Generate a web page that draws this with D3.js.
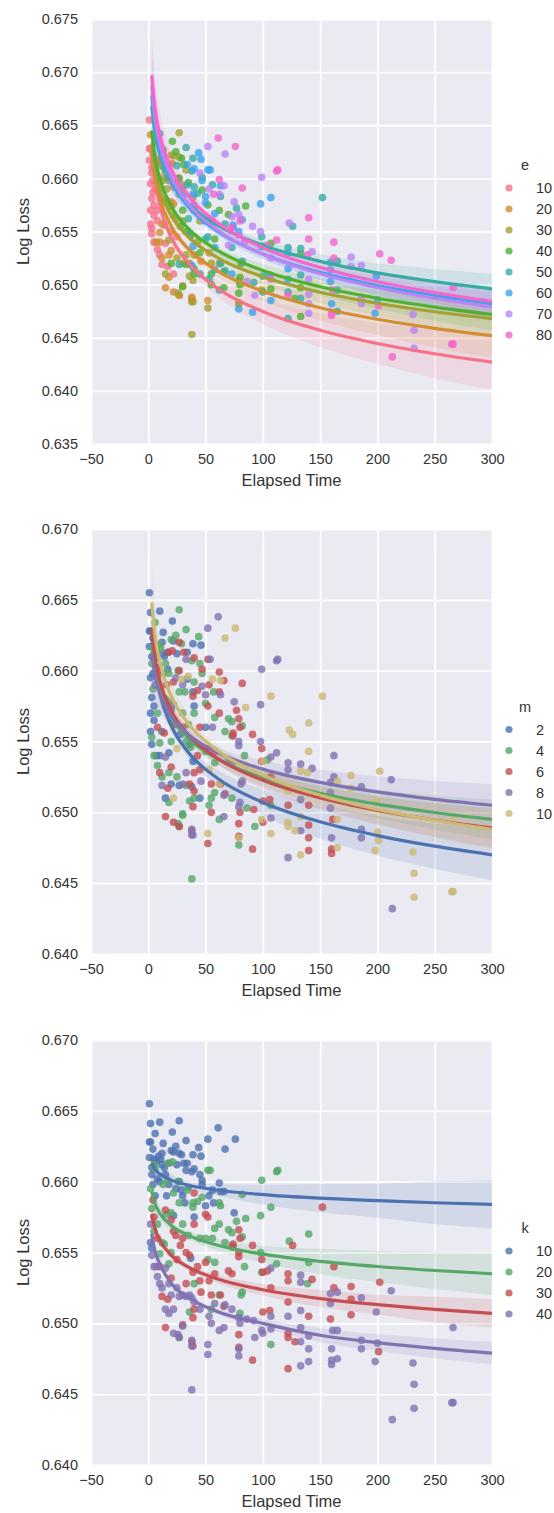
<!DOCTYPE html>
<html lang="en">
<head>
  <meta charset="utf-8">
  <title>Log Loss vs Elapsed Time</title>
  <script src="https://d3js.org/d3.v7.min.js"></script>
  <style>
    body { margin: 0; background: #fff; }
    text { font-family: "Liberation Sans", Arial, sans-serif; fill: #333; }
  </style>
</head>
<body>
<script>
// runs: [elapsed time, log loss, e, m], grouped by k
var k10Runs = [
  [1, .6655, 10, 2], [2, .6641, 20, 2], [10, .6642, 50, 2], [27, .6643, 30, 4], [21, .6635, 40, 2],
  [6, .6634, 10, 4], [1, .6628, 10, 2], [2, .6628, 10, 2], [13, .6627, 40, 2], [4, .6623, 10, 2],
  [24, .6625, 40, 4], [22, .6621, 30, 2], [33, .6629, 50, 4], [44, .6624, 60, 4], [46, .6618, 60, 2],
  [52, .6630, 70, 8], [61, .6638, 80, 8], [67, .6623, 70, 10], [76, .6630, 80, 10], [39, .6619, 50, 2],
  [27, .6620, 30, 6], [29, .6619, 40, 4], [12, .6620, 20, 2], [9, .6618, 10, 4], [1, .6617, 10, 2],
  [5, .6616, 10, 4], [7, .6614, 20, 2], [11, .6616, 20, 4], [12, .6612, 30, 2], [14, .6610, 40, 2],
  [20, .6622, 30, 4], [18, .6613, 20, 6], [25, .6612, 50, 2], [31, .6613, 40, 6], [34, .6613, 60, 2],
  [38, .6607, 50, 4], [33, .6608, 30, 8], [40, .6609, 60, 6], [45, .6605, 70, 4], [47, .6601, 50, 6],
  [47, .6598, 60, 4], [56, .6594, 50, 10], [63, .6593, 60, 10], [66, .6593, 70, 6], [27, .6600, 40, 6],
  [29, .6594, 30, 10], [30, .6590, 40, 8], [32, .6585, 50, 4], [22, .6576, 20, 8], [3, .6610, 10, 2],
  [3, .6605, 10, 4], [4, .6598, 10, 2], [8, .6602, 20, 2], [10, .6600, 10, 6], [15, .6605, 30, 4],
  [18, .6598, 20, 4], [35, .6596, 40, 10], [40, .6575, 60, 2], [53, .6590, 70, 6], [57, .6585, 80, 4],
  [2, .6557, 10, 2], [3, .6553, 10, 4], [37, .6546, 40, 4], [6, .6590, 10, 8], [16, .6590, 30, 6],
  [24, .6595, 20, 8], [50, .6583, 60, 8], [62, .6599, 80, 6], [75, .6578, 70, 8]
];
var k20Runs = [
  [5, .6612, 10, 4], [6, .6609, 20, 2], [17, .6613, 30, 2], [21, .6614, 20, 6], [52, .6608, 60, 6],
  [54, .6608, 60, 8], [13, .6598, 30, 4], [17, .6601, 40, 2], [26, .6600, 40, 4], [22, .6592, 20, 6],
  [34, .6594, 50, 2], [47, .6589, 40, 8], [43, .6586, 50, 6], [39, .6585, 60, 2], [39, .6582, 30, 6],
  [62, .6585, 70, 6], [63, .6583, 50, 8], [82, .6591, 80, 6], [85, .6574, 40, 10], [99, .6601, 70, 8],
  [98, .6576, 60, 8], [107, .6582, 60, 10], [112, .6607, 80, 8], [113, .6608, 80, 8], [98, .6550, 70, 8],
  [112, .6542, 80, 8], [123, .6558, 70, 10], [140, .6563, 80, 10], [140, .6543, 80, 10], [139, .6528, 80, 10],
  [107, .6485, 60, 10], [82, .6522, 50, 8], [81, .6520, 40, 8], [80, .6507, 40, 8], [82, .6561, 60, 4],
  [77, .6572, 50, 6], [70, .6566, 40, 4], [73, .6564, 70, 4], [74, .6554, 60, 6], [67, .6557, 50, 4],
  [62, .6570, 40, 6], [58, .6567, 60, 4], [56, .6560, 30, 8], [58, .6543, 40, 6], [52, .6545, 50, 6],
  [45, .6560, 30, 6], [50, .6560, 60, 2], [30, .6570, 40, 4], [27, .6585, 30, 4], [20, .6578, 20, 4],
  [16, .6577, 30, 2], [8, .6570, 10, 4], [5, .6565, 10, 2], [3, .6581, 10, 2], [2, .6595, 10, 2],
  [27, .6490, 20, 4], [36, .6508, 30, 4], [40, .6528, 30, 6], [55, .6510, 40, 4], [62, .6520, 20, 10],
  [18, .6542, 30, 2], [20, .6550, 20, 4], [12, .6557, 20, 2], [10, .6549, 20, 4], [14, .6556, 10, 6],
  [35, .6562, 50, 4], [99, .6536, 60, 6], [84, .6540, 70, 4]
];
var k30Runs = [
  [4, .6587, 10, 4], [5, .6575, 10, 2], [40, .6592, 50, 4], [50, .6577, 60, 4], [52, .6575, 40, 6],
  [40, .6570, 40, 4], [15, .6580, 20, 4], [22, .6565, 30, 4], [24, .6562, 20, 6], [28, .6555, 40, 2],
  [20, .6573, 30, 2], [30, .6560, 30, 6], [33, .6550, 40, 4], [36, .6548, 50, 2], [39, .6536, 60, 2],
  [43, .6540, 30, 6], [45, .6530, 40, 6], [50, .6543, 50, 4], [53, .6530, 20, 10], [58, .6535, 60, 4],
  [63, .6520, 50, 6], [66, .6512, 40, 8], [70, .6537, 70, 4], [73, .6535, 50, 8], [73, .6554, 80, 4],
  [74, .6556, 60, 6], [79, .6566, 70, 6], [80, .6560, 80, 6], [79, .6550, 60, 8], [79, .6547, 70, 8],
  [91, .6555, 70, 6], [99, .6545, 50, 6], [100, .6536, 40, 10], [104, .6537, 80, 4], [107, .6525, 70, 6],
  [106, .6509, 60, 6], [79, .6492, 40, 6], [79, .6483, 30, 6], [91, .6474, 60, 6], [100, .6508, 50, 6],
  [122, .6535, 50, 8], [122, .6530, 60, 8], [122, .6515, 60, 10], [122, .6493, 50, 10], [122, .6490, 80, 10],
  [122, .6468, 50, 8], [126, .6555, 50, 10], [128, .6487, 40, 10], [143, .6531, 70, 8], [140, .6505, 70, 6],
  [152, .6582, 50, 10], [162, .6540, 80, 8], [162, .6525, 80, 8], [159, .6503, 60, 8], [177, .6526, 70, 10],
  [177, .6517, 70, 10], [177, .6506, 70, 10], [202, .6529, 80, 10], [201, .6480, 80, 10], [15, .6497, 20, 6],
  [30, .6499, 20, 4], [39, .6504, 30, 6], [38, .6487, 20, 6], [39, .6484, 20, 8], [40, .6510, 40, 4],
  [55, .6520, 30, 6], [20, .6532, 20, 6], [17, .6517, 10, 6], [12, .6519, 10, 8], [8, .6560, 10, 6],
  [10, .6540, 20, 2], [25, .6545, 10, 10], [33, .6528, 30, 8], [46, .6522, 20, 8]
];
var k40Runs = [
  [2, .6570, 10, 2], [5, .6540, 10, 4], [7, .6540, 20, 2], [10, .6528, 10, 6], [12, .6525, 20, 4],
  [15, .6510, 30, 2], [18, .6507, 20, 4], [20, .6520, 40, 2], [22, .6510, 10, 10], [25, .6525, 30, 4],
  [27, .6519, 50, 2], [30, .6520, 20, 8], [33, .6519, 40, 4], [36, .6520, 30, 6], [38, .6518, 60, 2],
  [40, .6515, 40, 6], [22, .6493, 20, 6], [26, .6492, 30, 4], [27, .6490, 20, 6], [30, .6498, 40, 4],
  [38, .6484, 30, 8], [38, .6488, 20, 8], [52, .6485, 20, 10], [52, .6478, 30, 6], [53, .6505, 50, 4],
  [55, .6500, 40, 6], [58, .6514, 60, 4], [66, .6497, 40, 8], [67, .6513, 50, 6], [73, .6510, 60, 4],
  [79, .6504, 30, 8], [80, .6500, 40, 6], [79, .6477, 60, 4], [79, .6482, 30, 10], [86, .6503, 70, 4],
  [93, .6490, 70, 4], [92, .6502, 50, 6], [99, .6495, 30, 10], [100, .6493, 50, 6], [107, .6496, 40, 8],
  [107, .6505, 80, 4], [107, .6539, 40, 8], [122, .6505, 60, 6], [133, .6534, 50, 8], [133, .6529, 40, 10],
  [133, .6509, 50, 8], [133, .6497, 40, 10], [133, .6487, 50, 8], [133, .6470, 40, 10], [140, .6482, 70, 6],
  [140, .6473, 70, 6], [140, .6491, 70, 6], [159, .6521, 60, 8], [159, .6514, 60, 8], [161, .6495, 80, 6],
  [160, .6482, 60, 8], [160, .6474, 80, 6], [160, .6471, 80, 6], [165, .6522, 50, 10], [165, .6495, 50, 10],
  [165, .6475, 50, 10], [186, .6482, 70, 8], [186, .6488, 70, 8], [186, .6518, 70, 8], [198, .6473, 60, 10],
  [199, .6508, 60, 10], [200, .6486, 60, 10], [212, .6523, 80, 8], [213, .6432, 80, 8], [232, .6440, 70, 10],
  [232, .6457, 70, 10], [231, .6472, 70, 10], [265, .6444, 80, 10], [266, .6444, 80, 10], [266, .6497, 80, 10],
  [38, .6453, 30, 4], [15, .6539, 10, 8], [8, .6533, 10, 4], [3, .6548, 10, 2], [45, .6510, 50, 2],
  [62, .6495, 50, 4], [18, .6528, 20, 4]
];

var fitX = [3, 6, 10, 20, 35, 60, 100, 150, 200, 250, 300];

var eLevels = [10, 20, 30, 40, 50, 60, 70, 80];
var eColors = ["#f77189", "#d58c32", "#a4a031", "#50b131", "#36ada4", "#3ba3ec", "#bb83f4", "#f565cc"];
var eFit = [
  [.66270, .65969, .65747, .65446, .65203, .64969, .64747, .64571, .64446, .64349, .64270],
  [.66270, .66007, .65813, .65549, .65336, .65132, .64938, .64783, .64674, .64589, .64520],
  [.66330, .66082, .65899, .65650, .65450, .65257, .65074, .64928, .64825, .64745, .64680],
  [.66450, .66190, .65998, .65737, .65527, .65325, .65133, .64980, .64872, .64789, .64720],
  [.66680, .66421, .66230, .65972, .65762, .65561, .65370, .65219, .65111, .65028, .64960],
  [.66780, .66485, .66268, .65973, .65734, .65505, .65288, .65115, .64992, .64898, .64820],
  [.66870, .66557, .66326, .66013, .65760, .65517, .65286, .65103, .64973, .64872, .64790],
  [.66970, .66649, .66413, .66093, .65834, .65584, .65348, .65161, .65027, .64924, .64840]
];
var eBand = [
  [.0012, .0009, .0007, .0005, .0005, .0008, .0012, .0016, .0019, .0023, .0026],
  [.0012, .0009, .0007, .0005, .0004, .0006, .0009, .0012, .0015, .0018, .0021],
  [.0014, .0010, .0008, .0005, .0004, .0005, .0007, .0010, .0012, .0015, .0017],
  [.0016, .0012, .0009, .0006, .0004, .0004, .0006, .0008, .0010, .0013, .0015],
  [.0022, .0017, .0013, .0008, .0005, .0004, .0005, .0007, .0009, .0012, .0014],
  [.0028, .0021, .0016, .0010, .0006, .0004, .0005, .0007, .0009, .0011, .0014],
  [.0032, .0024, .0018, .0011, .0007, .0004, .0004, .0006, .0008, .0011, .0014],
  [.0040, .0030, .0023, .0015, .0009, .0005, .0004, .0005, .0007, .0010, .0013]
];

var mLevels = [2, 4, 6, 8, 10];
var deepColors = ["#4c72b0", "#55a868", "#c44e52", "#8172b2", "#ccb974"];
var mFit = [
  [.66250, .66017, .65845, .65612, .65423, .65242, .65070, .64933, .64836, .64761, .64700],
  [.66180, .65995, .65858, .65673, .65524, .65380, .65243, .65135, .65058, .64999, .64950],
  [.66300, .66088, .65931, .65719, .65548, .65383, .65226, .65102, .65014, .64946, .64890],
  [.66120, .65959, .65840, .65679, .65549, .65424, .65305, .65211, .65144, .65092, .65050],
  [.66480, .66239, .66062, .65821, .65626, .65439, .65262, .65121, .65021, .64943, .64880]
];
var mBand = [
  [.0010, .0008, .0006, .0004, .0004, .0006, .0009, .0012, .0014, .0016, .0018],
  [.0014, .0010, .0008, .0005, .0004, .0004, .0006, .0008, .0010, .0012, .0014],
  [.0016, .0012, .0009, .0006, .0004, .0004, .0006, .0008, .0010, .0012, .0014],
  [.0022, .0016, .0012, .0008, .0005, .0004, .0006, .0009, .0011, .0013, .0015],
  [.0028, .0021, .0016, .0011, .0006, .0004, .0005, .0007, .0009, .0012, .0014]
];

var kLevels = [10, 20, 30, 40];
var kFit = [
  [.66130, .66086, .66054, .66011, .65975, .65941, .65909, .65884, .65866, .65851, .65840],
  [.65930, .65843, .65778, .65691, .65621, .65553, .65488, .65437, .65401, .65373, .65350],
  [.65770, .65665, .65587, .65482, .65397, .65315, .65237, .65175, .65132, .65098, .65070],
  [.65630, .65504, .65420, .65284, .65182, .65084, .65000, .64916, .64864, .64823, .64790]
];
var kBand = [
  [.0010, .0008, .0006, .0004, .0003, .0004, .0007, .0010, .0012, .0015, .0017],
  [.0009, .0007, .0005, .0003, .0003, .0004, .0006, .0009, .0011, .0013, .0015],
  [.0007, .0005, .0004, .0003, .0002, .0003, .0004, .0006, .0007, .0009, .0010],
  [.0006, .0004, .0003, .0002, .0002, .0002, .0003, .0005, .0006, .0007, .0008]
];

var xTicks = [-50, 0, 50, 100, 150, 200, 250, 300];
var yTicksTop = [0.635, 0.640, 0.645, 0.650, 0.655, 0.660, 0.665, 0.670, 0.675];
var yTicksLow = [0.640, 0.645, 0.650, 0.655, 0.660, 0.665, 0.670];

// flatten runs
var runs = [];
[[10, k10Runs], [20, k20Runs], [30, k30Runs], [40, k40Runs]].forEach(function(g) {
  g[1].forEach(function(r) {
    runs.push({t: r[0], loss: r[1], e: r[2], m: r[3], k: g[0]});
  });
});

var panels = [
  {top: 19, domain: [0.635, 0.675], ticks: yTicksTop, hue: "e", levels: eLevels, colors: eColors, fit: eFit, band: eBand},
  {top: 529, domain: [0.640, 0.670], ticks: yTicksLow, hue: "m", levels: mLevels, colors: deepColors, fit: mFit, band: mBand},
  {top: 1040, domain: [0.640, 0.670], ticks: yTicksLow, hue: "k", levels: kLevels, colors: deepColors, fit: kFit, band: kBand}
];

var width = 554, height = 1513;
var left = 91, right = 492, plotH = 425;

var svg = d3.select("body").append("svg")
  .attr("width", width)
  .attr("height", height);

panels.forEach(function(p, pi) {
  var x = d3.scaleLinear().domain([-50, 300]).range([left, right]);
  var y = d3.scaleLinear().domain(p.domain).range([p.top + plotH, p.top]);
  var g = svg.append("g");

  g.append("rect")
    .attr("x", left).attr("y", p.top)
    .attr("width", right - left).attr("height", plotH)
    .attr("fill", "#eaeaf2");

  var xAxis = g.append("g")
    .attr("transform", "translate(0," + (p.top + plotH) + ")")
    .call(d3.axisBottom(x).tickValues(xTicks).tickSize(-plotH).tickPadding(10).tickFormat(d3.format("d")));
  var yAxis = g.append("g")
    .attr("transform", "translate(" + left + ",0)")
    .call(d3.axisLeft(y).tickValues(p.ticks).tickSize(-(right - left)).tickPadding(13).tickFormat(d3.format(".3f")));

  [xAxis, yAxis].forEach(function(a) {
    a.select(".domain").remove();
    a.selectAll(".tick line").attr("stroke", "#fff").attr("stroke-width", 1.8);
    a.selectAll(".tick text")
      .attr("fill", "#333")
      .style("font-size", "14.5px")
      .style("font-family", "'Liberation Sans', Arial, sans-serif");
  });

  var clipId = "clip" + pi;
  svg.append("clipPath").attr("id", clipId)
    .append("rect")
    .attr("x", left).attr("y", p.top)
    .attr("width", right - left).attr("height", plotH);

  var plot = g.append("g").attr("clip-path", "url(#" + clipId + ")");

  var line = d3.line()
    .x(function(d) { return x(d[0]); })
    .y(function(d) { return y(d[1]); })
    .curve(d3.curveMonotoneX);
  var area = d3.area()
    .x(function(d) { return x(d[0]); })
    .y0(function(d) { return y(d[1] - d[2]); })
    .y1(function(d) { return y(d[1] + d[2]); })
    .curve(d3.curveMonotoneX);

  // scatter + ci band for each level, like seaborn draws them
  p.levels.forEach(function(lv, i) {
    plot.append("g").selectAll("circle")
      .data(runs.filter(function(r) { return r[p.hue] === lv; }))
      .enter()
      .append("circle")
      .attr("cx", function(d) { return x(d.t); })
      .attr("cy", function(d) { return y(d.loss); })
      .attr("r", 3.8)
      .attr("fill", p.colors[i])
      .attr("fill-opacity", 0.8);

    var pts = fitX.map(function(t, j) { return [t, p.fit[i][j], p.band[i][j]]; });
    plot.append("path")
      .attr("d", area(pts))
      .attr("fill", p.colors[i])
      .attr("fill-opacity", 0.15);
  });

  // regression lines on top
  p.levels.forEach(function(lv, i) {
    var pts = fitX.map(function(t, j) { return [t, p.fit[i][j]]; });
    plot.append("path")
      .attr("d", line(pts))
      .attr("fill", "none")
      .attr("stroke", p.colors[i])
      .attr("stroke-width", 3.2);
  });

  // axis labels
  g.append("text")
    .attr("x", (left + right) / 2)
    .attr("y", p.top + plotH + 42)
    .attr("text-anchor", "middle")
    .style("font-size", "16.5px")
    .text("Elapsed Time");
  g.append("text")
    .attr("transform", "translate(29," + (p.top + plotH / 2) + ") rotate(-90)")
    .attr("text-anchor", "middle")
    .style("font-size", "16.5px")
    .text("Log Loss");

  // legend
  var n = p.levels.length;
  var midY = p.top + plotH / 2 + 18.5;
  var titleY = midY - (23 + (n - 1) * 21) / 2;
  var leg = g.append("g");
  leg.append("text")
    .attr("x", 525).attr("y", titleY)
    .attr("dy", "0.35em")
    .attr("text-anchor", "middle")
    .style("font-size", "14.5px")
    .text(p.hue);
  p.levels.forEach(function(lv, i) {
    var ry = titleY + 23 + i * 21;
    leg.append("circle")
      .attr("cx", 509).attr("cy", ry)
      .attr("r", 3.6)
      .attr("fill", p.colors[i])
      .attr("fill-opacity", 0.8);
    leg.append("text")
      .attr("x", 536).attr("y", ry)
      .attr("dy", "0.35em")
      .style("font-size", "14.5px")
      .text(lv);
  });
});
</script>
</body>
</html>
